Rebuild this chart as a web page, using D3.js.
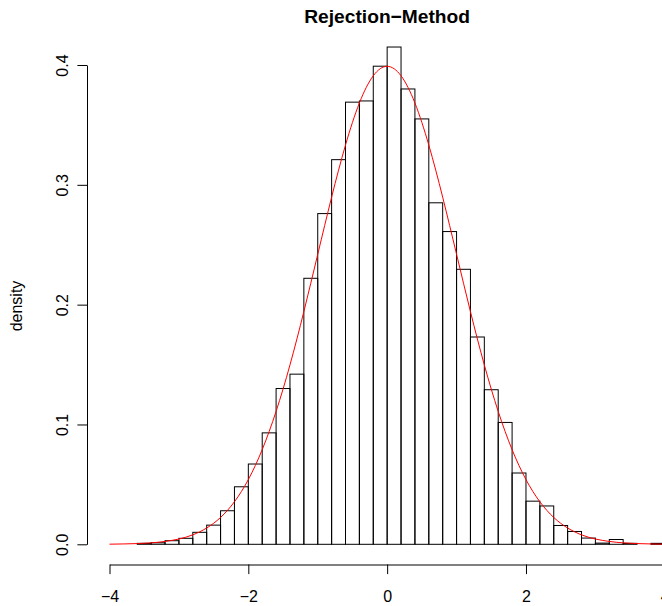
<!DOCTYPE html>
<meta charset="utf-8">
<html>
<head>
<title>Rejection-Method</title>
<script src="https://d3js.org/d3.v7.min.js"></script>
<style>
  body { margin: 0; background: #fff; }
  svg text { font-family: "Liberation Sans", Arial, Helvetica, sans-serif; }
</style>
</head>
<body>
<div id="chart"></div>
<script>

// histogram bins (left edge, width 0.2) and their densities
var binLeft = [-3.6, -3.4, -3.2, -3.0, -2.8, -2.6, -2.4, -2.2, -2.0, -1.8,
               -1.6, -1.4, -1.2, -1.0, -0.8, -0.6, -0.4, -0.2, 0.0, 0.2,
               0.4, 0.6, 0.8, 1.0, 1.2, 1.4, 1.6, 1.8, 2.0, 2.2,
               2.4, 2.6, 2.8, 3.0, 3.2, 3.4, 3.6, 3.8];
var binDensity = [0.0008, 0.0013, 0.003, 0.005, 0.010, 0.016, 0.028, 0.048, 0.067, 0.093,
                  0.130, 0.142, 0.222, 0.276, 0.321, 0.369, 0.370, 0.399, 0.415, 0.380,
                  0.355, 0.285, 0.261, 0.2295, 0.173, 0.129, 0.1017, 0.0595, 0.036, 0.032,
                  0.0157, 0.0107, 0.0052, 0.001, 0.004, 0.0008, 0, 0.0008];
var binWidth = 0.2;

// red density curve
var curveX = [-4.0, -3.8, -3.6, -3.4, -3.2, -3.0, -2.8, -2.6, -2.4, -2.2,
              -2.0, -1.8, -1.6, -1.4, -1.2, -1.0, -0.8, -0.6, -0.4, -0.2,
              0.0, 0.2, 0.4, 0.6, 0.8, 1.0, 1.2, 1.4, 1.6, 1.8,
              2.0, 2.2, 2.4, 2.6, 2.8, 3.0, 3.2, 3.4, 3.6, 3.8, 4.0];
var curveY = [0.0001, 0.0003, 0.0006, 0.0012, 0.0024, 0.0044, 0.0079, 0.0136, 0.0224, 0.0355,
              0.0540, 0.0790, 0.1109, 0.1497, 0.1942, 0.2420, 0.2897, 0.3332, 0.3683, 0.3910,
              0.3989, 0.3910, 0.3683, 0.3332, 0.2897, 0.2420, 0.1942, 0.1497, 0.1109, 0.0790,
              0.0540, 0.0355, 0.0224, 0.0136, 0.0079, 0.0044, 0.0024, 0.0012, 0.0006, 0.0003, 0.0001];

var xTicks = [-4, -2, 0, 2, 4];
var yTicks = [0.0, 0.1, 0.2, 0.3, 0.4];

var width = 662, height = 606;

var svg = d3.select("#chart")
  .append("svg")
    .attr("width", width)
    .attr("height", height);

var x = d3.scaleLinear().domain([-4, 4]).range([109.5, 664.8]);
var y = d3.scaleLinear().domain([0, 0.4]).range([544.3, 65]);

var bins = binLeft.map(function(d, i) { return {x0: d, x1: d + binWidth, v: binDensity[i]}; });

// bars
svg.selectAll(".bar")
  .data(bins)
  .enter()
  .append("rect")
    .attr("class", "bar")
    .attr("x", function(d) { return x(d.x0); })
    .attr("width", function(d) { return x(d.x1) - x(d.x0); })
    .attr("y", function(d) { return y(d.v); })
    .attr("height", function(d) { return y(0) - y(d.v); })
    .attr("fill", "none")
    .attr("stroke", "#000")
    .attr("stroke-width", 1);

// density curve
var line = d3.line()
  .x(function(d) { return x(d[0]); })
  .y(function(d) { return y(d[1]); })
  .curve(d3.curveNatural);

svg.append("path")
  .datum(curveX.map(function(d, i) { return [d, curveY[i]]; }))
  .attr("d", line)
  .attr("fill", "none")
  .attr("stroke", "#ff0000")
  .attr("stroke-width", 1);

// x axis
var xAxis = svg.append("g")
  .attr("transform", "translate(0,564.5)")
  .call(d3.axisBottom(x).tickValues(xTicks).tickSize(9.6).tickSizeOuter(0).tickPadding(16.2));
xAxis.selectAll("text").attr("font-size", 16).attr("fill", "#000").style("font-family", null);
xAxis.attr("font-family", null);

// y axis
var yAxis = svg.append("g")
  .attr("transform", "translate(87,0)")
  .call(d3.axisLeft(y).tickValues(yTicks).tickSize(9.6).tickSizeOuter(0).tickFormat(d3.format(".1f")));
yAxis.attr("font-family", null);
yAxis.selectAll("text")
  .attr("font-size", 16)
  .attr("fill", "#000")
  .attr("text-anchor", "middle")
  .attr("dy", 0)
  .attr("x", 0)
  .attr("y", -19.5)
  .attr("transform", "rotate(-90)");

// labels
svg.append("text")
  .text("Rejection\u2212Method")
  .attr("x", x(0))
  .attr("y", 22.7)
  .attr("text-anchor", "middle")
  .attr("font-weight", "bold")
  .attr("font-size", 19.2);

svg.append("text")
  .text("density")
  .attr("text-anchor", "middle")
  .attr("font-size", 16)
  .attr("transform", "translate(22.3,306)rotate(-90)");

</script>
</body>
</html>
